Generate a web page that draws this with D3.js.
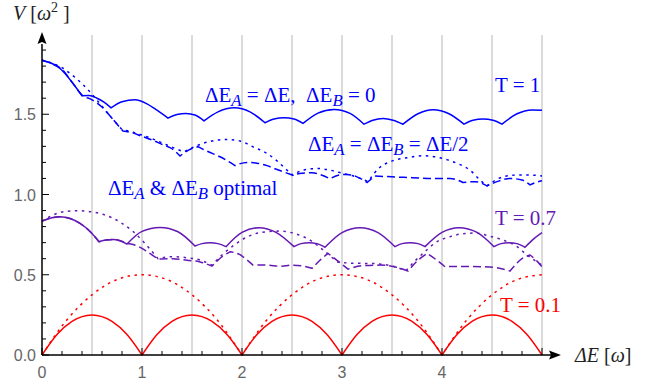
<!DOCTYPE html>
<html>
<head>
<meta charset="utf-8">
<script src="https://cdn.jsdelivr.net/npm/d3@7"></script>
<style>
  html, body { margin: 0; padding: 0; background: #fff; }
  svg { display: block; }
  text { white-space: pre; }
</style>
</head>
<body>
<svg id="chart" width="657" height="386"></svg>
<script>
// tick labels and grid positions
const xTickValues = [0, 1, 2, 3, 4];
const yTickValues = [0, 0.5, 1, 1.5];
const gridValues = [0.5, 1, 1.5, 2, 2.5, 3, 3.5, 4, 4.5, 5];

// T = 1 (blue), each curve is a list of smooth pieces between cusps
const blueSolid = [
  [[0, 1.837], [0.1, 1.816], [0.18, 1.785], [0.31, 1.692], [0.40, 1.615]],
  [[0.40, 1.615], [0.47, 1.617], [0.55, 1.60], [0.62, 1.575], [0.69, 1.54]],
  [[0.69, 1.54], [0.8, 1.578], [0.93, 1.59], [1.05, 1.565], [1.15, 1.525], [1.26, 1.476]],
  [[1.26, 1.476], [1.35, 1.498], [1.44, 1.505], [1.53, 1.495], [1.62, 1.459]],
  [[1.62, 1.459], [1.76, 1.515], [1.92, 1.54], [2.08, 1.515], [2.23, 1.447]],
  [[2.23, 1.447], [2.32, 1.47], [2.42, 1.478], [2.52, 1.47], [2.61, 1.443]],
  [[2.61, 1.443], [2.76, 1.507], [2.92, 1.53], [3.08, 1.505], [3.22, 1.438]],
  [[3.22, 1.438], [3.31, 1.463], [3.41, 1.473], [3.51, 1.463], [3.61, 1.438]],
  [[3.61, 1.438], [3.76, 1.503], [3.91, 1.528], [4.07, 1.503], [4.22, 1.438]],
  [[4.22, 1.438], [4.31, 1.462], [4.41, 1.47], [4.51, 1.462], [4.60, 1.438]],
  [[4.60, 1.438], [4.75, 1.503], [4.9, 1.527], [5.0, 1.525]]
];
const blueDashed = [
  [[0, 1.837], [0.1, 1.815], [0.2, 1.78], [0.3, 1.70], [0.4, 1.62], [0.5, 1.59], [0.6, 1.545], [0.7, 1.475], [0.81, 1.395]],
  [[0.81, 1.395], [0.9, 1.385], [1.0, 1.362], [1.1, 1.34], [1.2, 1.312], [1.3, 1.285], [1.38, 1.24]],
  [[1.38, 1.24], [1.47, 1.278], [1.56, 1.298]],
  [[1.56, 1.298], [1.65, 1.27], [1.78, 1.235], [1.93, 1.18]],
  [[1.93, 1.18], [2.05, 1.20], [2.15, 1.195], [2.25, 1.18], [2.33, 1.16]],
  [[2.33, 1.16], [2.42, 1.14], [2.51, 1.12]],
  [[2.51, 1.12], [2.6, 1.133], [2.7, 1.135], [2.8, 1.12], [2.88, 1.098]],
  [[2.88, 1.098], [2.98, 1.122], [3.05, 1.125], [3.15, 1.11], [3.25, 1.075]],
  [[3.25, 1.075], [3.33, 1.115]],
  [[3.33, 1.115], [3.5, 1.11], [3.7, 1.105], [3.9, 1.10], [4.08, 1.10], [4.21, 1.075]],
  [[4.21, 1.075], [4.33, 1.08], [4.45, 1.054]],
  [[4.45, 1.054], [4.55, 1.08], [4.68, 1.10], [4.8, 1.09], [4.88, 1.06]],
  [[4.88, 1.06], [4.95, 1.078], [5.0, 1.085]]
];
const blueDotted = [
  [[0, 1.837], [0.1, 1.818], [0.2, 1.79], [0.3, 1.745], [0.4, 1.69], [0.5, 1.625], [0.6, 1.55], [0.7, 1.475], [0.8, 1.405]],
  [[0.8, 1.405], [0.9, 1.39], [1.0, 1.37], [1.1, 1.348], [1.2, 1.322], [1.3, 1.295], [1.42, 1.265]],
  [[1.42, 1.265], [1.55, 1.305], [1.7, 1.333], [1.85, 1.343], [1.98, 1.334], [2.11, 1.297], [2.25, 1.256], [2.36, 1.204], [2.45, 1.152], [2.51, 1.12]],
  [[2.51, 1.12], [2.61, 1.152], [2.75, 1.162], [2.88, 1.152], [3.01, 1.131], [3.15, 1.108], [3.26, 1.08]],
  [[3.26, 1.08], [3.38, 1.17], [3.48, 1.204], [3.65, 1.229], [3.81, 1.241], [3.98, 1.229], [4.15, 1.194], [4.28, 1.152], [4.38, 1.09], [4.45, 1.054]],
  [[4.45, 1.054], [4.61, 1.11], [4.75, 1.121], [4.88, 1.121], [5.0, 1.115]]
];

// T = 0.7 (purple)
const purpleSolid = [
  [[0, 0.834], [0.1, 0.855], [0.18, 0.861], [0.28, 0.85], [0.38, 0.82], [0.48, 0.77], [0.57, 0.706]],
  [[0.57, 0.706], [0.64, 0.716], [0.71, 0.72], [0.78, 0.712], [0.85, 0.691]],
  [[0.85, 0.691], [1.0, 0.77], [1.18, 0.795], [1.36, 0.768], [1.53, 0.679]],
  [[1.53, 0.679], [1.6, 0.694], [1.68, 0.70], [1.76, 0.694], [1.84, 0.675]],
  [[1.84, 0.675], [2.0, 0.764], [2.17, 0.793], [2.34, 0.764], [2.52, 0.675]],
  [[2.52, 0.675], [2.59, 0.694], [2.67, 0.70], [2.75, 0.694], [2.83, 0.671]],
  [[2.83, 0.671], [3.0, 0.763], [3.18, 0.793], [3.36, 0.763], [3.53, 0.675]],
  [[3.53, 0.675], [3.6, 0.694], [3.68, 0.70], [3.76, 0.694], [3.83, 0.675]],
  [[3.83, 0.675], [4.0, 0.764], [4.17, 0.793], [4.35, 0.764], [4.52, 0.675]],
  [[4.52, 0.675], [4.59, 0.694], [4.67, 0.70], [4.75, 0.694], [4.83, 0.671]],
  [[4.83, 0.671], [4.92, 0.725], [5.0, 0.762]]
];
const purpleDashed = [
  [[0, 0.834], [0.1, 0.855], [0.18, 0.861], [0.28, 0.85], [0.38, 0.82], [0.48, 0.77], [0.57, 0.706]],
  [[0.57, 0.706], [0.64, 0.716], [0.71, 0.72], [0.78, 0.712], [0.85, 0.695]],
  [[0.85, 0.695], [0.95, 0.68], [1.05, 0.645], [1.16, 0.597]],
  [[1.16, 0.597], [1.31, 0.60], [1.45, 0.59], [1.58, 0.58], [1.70, 0.554]],
  [[1.70, 0.554], [1.8, 0.612], [1.88, 0.643]],
  [[1.88, 0.643], [1.98, 0.625], [2.05, 0.592], [2.11, 0.56]],
  [[2.11, 0.56], [2.25, 0.56], [2.38, 0.553], [2.5, 0.56], [2.6, 0.555], [2.70, 0.54]],
  [[2.70, 0.54], [2.78, 0.59], [2.86, 0.633]],
  [[2.86, 0.633], [2.95, 0.59], [3.01, 0.56], [3.06, 0.535]],
  [[3.06, 0.535], [3.2, 0.556], [3.38, 0.56], [3.52, 0.55], [3.66, 0.523]],
  [[3.66, 0.523], [3.76, 0.59], [3.85, 0.633]],
  [[3.85, 0.633], [3.95, 0.59], [4.03, 0.55]],
  [[4.03, 0.55], [4.2, 0.552], [4.4, 0.55], [4.55, 0.543], [4.68, 0.523]],
  [[4.68, 0.523], [4.8, 0.60], [4.88, 0.623]],
  [[4.88, 0.623], [4.95, 0.585], [5.0, 0.55]]
];
const purpleDotted = [
  [[0, 0.834], [0.12, 0.875], [0.24, 0.895], [0.36, 0.899], [0.48, 0.893], [0.6, 0.878], [0.7, 0.855], [0.8, 0.82], [0.9, 0.775], [1.0, 0.715], [1.08, 0.66], [1.16, 0.60]],
  [[1.16, 0.60], [1.3, 0.612], [1.45, 0.606], [1.58, 0.592], [1.70, 0.56]],
  [[1.70, 0.56], [1.8, 0.623], [1.91, 0.68], [2.05, 0.735], [2.2, 0.765], [2.38, 0.772], [2.55, 0.752], [2.68, 0.716], [2.81, 0.655], [2.95, 0.58]],
  [[2.95, 0.58], [3.1, 0.572], [3.3, 0.57], [3.5, 0.555], [3.64, 0.525]],
  [[3.64, 0.525], [3.72, 0.58], [3.81, 0.633], [3.95, 0.706], [4.08, 0.737], [4.21, 0.756], [4.33, 0.76], [4.48, 0.74], [4.61, 0.716], [4.75, 0.675], [4.85, 0.623], [4.95, 0.58], [5.0, 0.56]]
];

// T = 0.1 (red)
const redSolid = [
  [[0, 0], [0.15, 0.128], [0.3, 0.21], [0.5, 0.25], [0.7, 0.21], [0.85, 0.128], [1, 0]],
  [[1, 0], [1.15, 0.128], [1.3, 0.21], [1.5, 0.25], [1.7, 0.21], [1.85, 0.128], [2, 0]],
  [[2, 0], [2.15, 0.128], [2.3, 0.21], [2.5, 0.25], [2.7, 0.21], [2.85, 0.128], [3, 0]],
  [[3, 0], [3.15, 0.128], [3.3, 0.21], [3.5, 0.25], [3.7, 0.21], [3.85, 0.128], [4, 0]],
  [[4, 0], [4.15, 0.128], [4.3, 0.21], [4.5, 0.25], [4.7, 0.21], [4.85, 0.128], [5, 0]]
];
const redDotted = [
  [[0, 0], [0.25, 0.22], [0.5, 0.375], [0.75, 0.47], [1, 0.5], [1.25, 0.47], [1.5, 0.375], [1.75, 0.22], [2, 0]],
  [[2, 0], [2.25, 0.22], [2.5, 0.375], [2.75, 0.47], [3, 0.5], [3.25, 0.47], [3.5, 0.375], [3.75, 0.22], [4, 0]],
  [[4, 0], [4.25, 0.22], [4.5, 0.375], [4.75, 0.47], [5, 0.5]]
];

const BLUE = "#0000ff", PURPLE = "#6419b4", RED = "#ff0000";
const DASH = "8,4", DOT = "2.5,4.5";

const series = [
  { pieces: redDotted, color: RED, dash: DOT },
  { pieces: redSolid, color: RED, dash: null },
  { pieces: purpleDotted, color: PURPLE, dash: DOT },
  { pieces: purpleDashed, color: PURPLE, dash: DASH },
  { pieces: purpleSolid, color: PURPLE, dash: null },
  { pieces: blueDotted, color: BLUE, dash: DOT },
  { pieces: blueDashed, color: BLUE, dash: DASH },
  { pieces: blueSolid, color: BLUE, dash: null }
];

const svg = d3.select("#chart");
const x = d3.scaleLinear().domain([0, 5]).range([42, 542]);
const y = d3.scaleLinear().domain([0, 2]).range([355, 34]);

// grid
svg.append("g").selectAll("line").data(gridValues).join("line")
  .attr("x1", d => x(d)).attr("x2", d => x(d))
  .attr("y1", 35).attr("y2", y(0))
  .attr("stroke", "#cfcfcf").attr("stroke-width", 1.5);

// curves
const line = d3.line().x(d => x(d[0])).y(d => y(d[1])).curve(d3.curveMonotoneX);
function piecePath(pieces) {
  // join the pieces into one path so the dash pattern runs on
  return pieces.map((p, i) => {
    const s = line(p);
    return i ? "L" + s.slice(1) : s;
  }).join("");
}
svg.append("g").selectAll("path").data(series).join("path")
  .attr("d", d => piecePath(d.pieces))
  .attr("fill", "none")
  .attr("stroke", d => d.color)
  .attr("stroke-width", 1.5)
  .attr("stroke-linejoin", "miter")
  .attr("stroke-dasharray", d => d.dash);

// axes
const axes = svg.append("g");
axes.append("line").attr("x1", x(0)).attr("x2", 552).attr("y1", y(0)).attr("y2", y(0))
  .attr("stroke", "#000").attr("stroke-width", 1.5);
axes.append("line").attr("x1", x(0)).attr("x2", x(0)).attr("y1", y(0)).attr("y2", 44)
  .attr("stroke", "#000").attr("stroke-width", 1.5);
axes.append("path").attr("d", `M561,${y(0)} L549,${y(0) - 4.5} L551,${y(0)} L549,${y(0) + 4.5} Z`).attr("fill", "#000");
axes.append("path").attr("d", `M${x(0)},32 L${x(0) - 4.5},44 L${x(0)},42 L${x(0) + 4.5},44 Z`).attr("fill", "#000");

// ticks, inward
const xMinor = d3.range(0, 5.001, 0.2).filter(v => Math.abs(v - Math.round(v)) > 1e-6);
const yMinor = d3.range(0, 1.95, 0.1).filter(v => Math.abs(v * 2 - Math.round(v * 2)) > 1e-6);
axes.append("g").selectAll("line").data(xTickValues.concat([5])).join("line")
  .attr("x1", d => x(d)).attr("x2", d => x(d)).attr("y1", y(0)).attr("y2", y(0) - 7)
  .attr("stroke", "#000").attr("stroke-width", 1);
axes.append("g").selectAll("line").data(xMinor).join("line")
  .attr("x1", d => x(d)).attr("x2", d => x(d)).attr("y1", y(0)).attr("y2", y(0) - 4)
  .attr("stroke", "#000").attr("stroke-width", 1);
axes.append("g").selectAll("line").data(yTickValues).join("line")
  .attr("x1", x(0)).attr("x2", x(0) + 7).attr("y1", d => y(d)).attr("y2", d => y(d))
  .attr("stroke", "#000").attr("stroke-width", 1);
axes.append("g").selectAll("line").data(yMinor).join("line")
  .attr("x1", x(0)).attr("x2", x(0) + 4).attr("y1", d => y(d)).attr("y2", d => y(d))
  .attr("stroke", "#000").attr("stroke-width", 1);

// tick labels
const tickFont = "'Liberation Sans', Arial, sans-serif";
axes.append("g").selectAll("text").data(xTickValues).join("text")
  .attr("x", d => x(d)).attr("y", 378)
  .attr("text-anchor", "middle")
  .attr("font-family", tickFont).attr("font-size", 16).attr("fill", "#666")
  .text(d => d3.format("d")(d));
axes.append("g").selectAll("text").data(yTickValues).join("text")
  .attr("x", 36).attr("y", d => y(d) + 6)
  .attr("text-anchor", "end")
  .attr("font-family", tickFont).attr("font-size", 16).attr("fill", "#666")
  .text(d => d3.format(".1f")(d));

// rich text labels: parts are [text, style]
const serif = "'Liberation Serif', 'Times New Roman', serif";
function richLabel(px, py, parts, color, size) {
  const t = svg.append("text").attr("x", px).attr("y", py)
    .attr("font-family", serif).attr("font-size", size).attr("fill", color);
  let shift = 0;
  parts.forEach(([str, style]) => {
    const s = t.append("tspan").text(str);
    let target = 0;
    if (style === "sub") { s.attr("font-style", "italic").attr("font-size", size * 0.8); target = 4; }
    if (style === "sup") { s.attr("font-size", size * 0.7); target = -8; }
    if (style === "it") s.attr("font-style", "italic");
    s.attr("dy", target - shift);
    shift = target;
  });
}

richLabel(13, 20, [["V", "it"], [" ["], ["ω", "it"], ["2", "sup"], [" ]"]], "#222", 20);
richLabel(575, 362, [["ΔE", "it"], [" ["], ["ω", "it"], ["]"]], "#222", 20);

richLabel(205, 102, [["ΔE"], ["A", "sub"], [" = ΔE,  ΔE"], ["B", "sub"], [" = 0"]], BLUE, 21);
richLabel(308, 151, [["ΔE"], ["A", "sub"], [" = ΔE"], ["B", "sub"], [" = ΔE/2"]], BLUE, 21);
richLabel(108, 195, [["ΔE"], ["A", "sub"], [" & ΔE"], ["B", "sub"], [" optimal"]], BLUE, 21);
richLabel(495, 92, [["T = 1"]], BLUE, 21);
richLabel(495, 225, [["T = 0.7"]], PURPLE, 21);
richLabel(500, 312, [["T = 0.1"]], RED, 21);
</script>
</body>
</html>
